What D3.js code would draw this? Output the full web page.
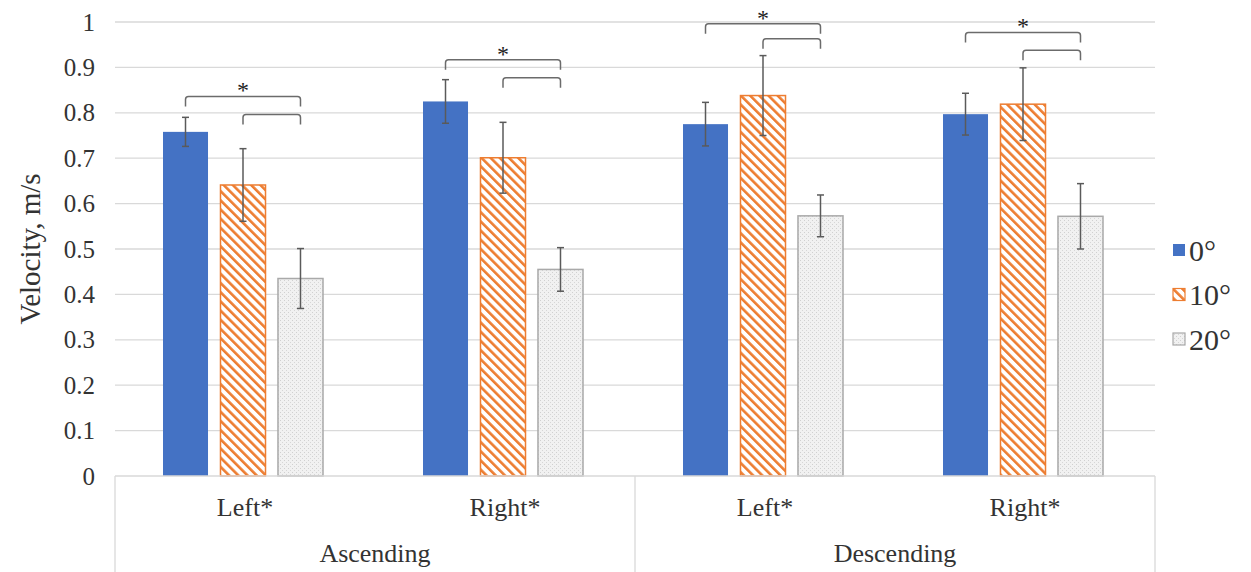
<!DOCTYPE html>
<html><head><meta charset="utf-8">
<script src="https://cdn.jsdelivr.net/npm/d3@7"></script>
<style>body{margin:0;background:#fff}svg{display:block}
svg text{font-family:"Liberation Serif","Tinos","Times New Roman","DejaVu Serif",serif;}</style>
</head><body>
<script>
const groups = ["Ascending", "Descending"];
const sides = ["Left*", "Right*"];
const seriesNames = ["0°", "10°", "20°"];
const mean0  = [0.758, 0.825, 0.775, 0.797];
const mean10 = [0.641, 0.701, 0.838, 0.819];
const mean20 = [0.435, 0.455, 0.573, 0.572];
const err0  = [0.032, 0.048, 0.048, 0.046];
const err10 = [0.080, 0.078, 0.088, 0.080];
const err20 = [0.066, 0.048, 0.046, 0.072];
const yTicks = [0, 0.1, 0.2, 0.3, 0.4, 0.5, 0.6, 0.7, 0.8, 0.9, 1];
// significance brackets: [category index, from series, to series, level]
const brackets = [
  [0, 0, 2, 0.836], [0, 1, 2, 0.796],
  [1, 0, 2, 0.917], [1, 1, 2, 0.877],
  [2, 0, 2, 0.996], [2, 1, 2, 0.963],
  [3, 0, 2, 0.977], [3, 1, 2, 0.938]
];
const starCats = [0, 1, 2, 3];

(function(){
const W = 1251, H = 572;
const svg = d3.select("body").append("svg").attr("width", W).attr("height", H);
const defs = svg.append("defs");
const pHatch = defs.append("pattern").attr("id","hatch").attr("patternUnits","userSpaceOnUse")
  .attr("width",6.5).attr("height",6.5).attr("patternTransform","rotate(-45)");
pHatch.append("rect").attr("width",6.5).attr("height",6.5).attr("fill","#fff");
pHatch.append("rect").attr("x",0).attr("width",2.6).attr("height",6.5).attr("fill","#ED7D31");
const pDot = defs.append("pattern").attr("id","dots").attr("patternUnits","userSpaceOnUse")
  .attr("width",4).attr("height",4);
pDot.append("rect").attr("width",4).attr("height",4).attr("fill","#f1f1f1");
pDot.append("rect").attr("x",0).attr("y",0).attr("width",1).attr("height",1).attr("fill","#d0d0d0");
pDot.append("rect").attr("x",2).attr("y",2).attr("width",1).attr("height",1).attr("fill","#d6d6d6");

const pl = 115, pr = 1155, pt = 22, pb = 476;
const y = d3.scaleLinear().domain([0, 1]).range([pb, pt]);
const cats = d3.range(4);
const x0 = d3.scaleBand().domain(cats).range([pl, pr]).paddingInner(0).paddingOuter(0);
const x1 = d3.scaleBand().domain([0,1,2]).range([48, 208]).paddingInner(0.217).paddingOuter(0);

svg.append("g").selectAll("line").data(yTicks.filter(d=>d>0)).join("line")
  .attr("x1", pl).attr("x2", pr).attr("y1", d=>y(d)).attr("y2", d=>y(d))
  .attr("stroke", "#d9d9d9").attr("stroke-width", 1.3);

const yAxis = d3.axisLeft(y).tickValues(yTicks).tickSize(0).tickPadding(0)
  .tickFormat(d => String(+d.toFixed(1)));
const ya = svg.append("g").attr("transform", `translate(${pl-20},0)`).call(yAxis);
ya.select(".domain").remove();
ya.attr("font-family", null).attr("font-size", null);
ya.selectAll("text").attr("font-size", 25).attr("fill", "#333");

svg.append("text").attr("transform", `translate(40,${(pt+pb)/2}) rotate(-90)`)
  .attr("text-anchor","middle").attr("font-size", 29).attr("fill","#333")
  .text("Velocity, m/s");

const means = [mean0, mean10, mean20];
const errs = [err0, err10, err20];
const fills = ["#4472C4", "url(#hatch)", "url(#dots)"];
const strokes = ["#4472C4", "#ED7D31", "#a9a9a9"];
const bars = [];
cats.forEach(c => seriesNames.forEach((s, i) => bars.push({c, i, v: means[i][c], e: errs[i][c]})));
const bx = d => x0(d.c) + x1(d.i);
const bw = x1.bandwidth();

svg.append("g").selectAll("rect").data(bars).join("rect")
  .attr("x", d => bx(d)).attr("y", d => y(d.v)).attr("width", bw).attr("height", d => y(0) - y(d.v))
  .attr("fill", d => fills[d.i]).attr("stroke", d => strokes[d.i]).attr("stroke-width", d => d.i===0?0:1.5);

const eg = svg.append("g").attr("stroke", "#5a5a5a").attr("stroke-width", 1.5);
bars.forEach(d => {
  const cx = bx(d) + bw/2;
  eg.append("line").attr("x1", cx).attr("x2", cx).attr("y1", y(d.v + d.e)).attr("y2", y(d.v - d.e));
  eg.append("line").attr("x1", cx-3.5).attr("x2", cx+3.5).attr("y1", y(d.v + d.e)).attr("y2", y(d.v + d.e));
  eg.append("line").attr("x1", cx-3.5).attr("x2", cx+3.5).attr("y1", y(d.v - d.e)).attr("y2", y(d.v - d.e));
});

const bg = svg.append("g").attr("fill","none").attr("stroke","#6b6b6b").attr("stroke-width",1.5);
brackets.forEach(([c, a, b, lv]) => {
  const xa = x0(c) + x1(a) + bw/2, xb = x0(c) + x1(b) + bw/2, yy = y(lv), r = 3, h = 10;
  bg.append("path").attr("d",
    `M${xa},${yy+h} L${xa},${yy+r} Q${xa},${yy} ${xa+r},${yy} L${xb-r},${yy} Q${xb},${yy} ${xb},${yy+r} L${xb},${yy+h}`);
});
starCats.forEach(c => {
  const outer = brackets.find(b => b[0]===c && b[1]===0);
  const xa = x0(c) + x1(0) + bw/2, xb = x0(c) + x1(2) + bw/2;
  svg.append("text").attr("x", (xa+xb)/2).attr("y", y(outer[3]) + 2)
    .attr("text-anchor","middle").attr("font-size", 24).attr("fill","#222").text("*");
});

const ag = svg.append("g").attr("stroke", "#d9d9d9").attr("stroke-width", 1.3);
ag.append("line").attr("x1", pl).attr("x2", pr).attr("y1", pb).attr("y2", pb);
[pl, x0(2), pr].forEach(xx => ag.append("line").attr("x1", xx).attr("x2", xx).attr("y1", pb).attr("y2", H));
cats.forEach(c => {
  svg.append("text").attr("x", x0(c) + x0.bandwidth()/2).attr("y", 516).attr("text-anchor","middle")
    .attr("font-size", 26).attr("fill","#333").text(sides[c % 2]);
});
groups.forEach((g, gi) => {
  svg.append("text").attr("x", x0(gi*2) + x0.bandwidth()).attr("y", 562).attr("text-anchor","middle")
    .attr("font-size", 26).attr("fill","#333").text(g);
});

const lg = svg.append("g");
seriesNames.forEach((s, i) => {
  const ly = 250 + i*44.5;
  lg.append("rect").attr("x", 1173).attr("y", ly-6).attr("width", 12).attr("height", 12)
    .attr("fill", fills[i]).attr("stroke", strokes[i]).attr("stroke-width", i===0?0:1.2);
  lg.append("text").attr("x", 1189).attr("y", ly).attr("dy","0.35em")
    .attr("font-size", 30).attr("fill","#333").text(s);
});
})();
</script>
</body></html>
